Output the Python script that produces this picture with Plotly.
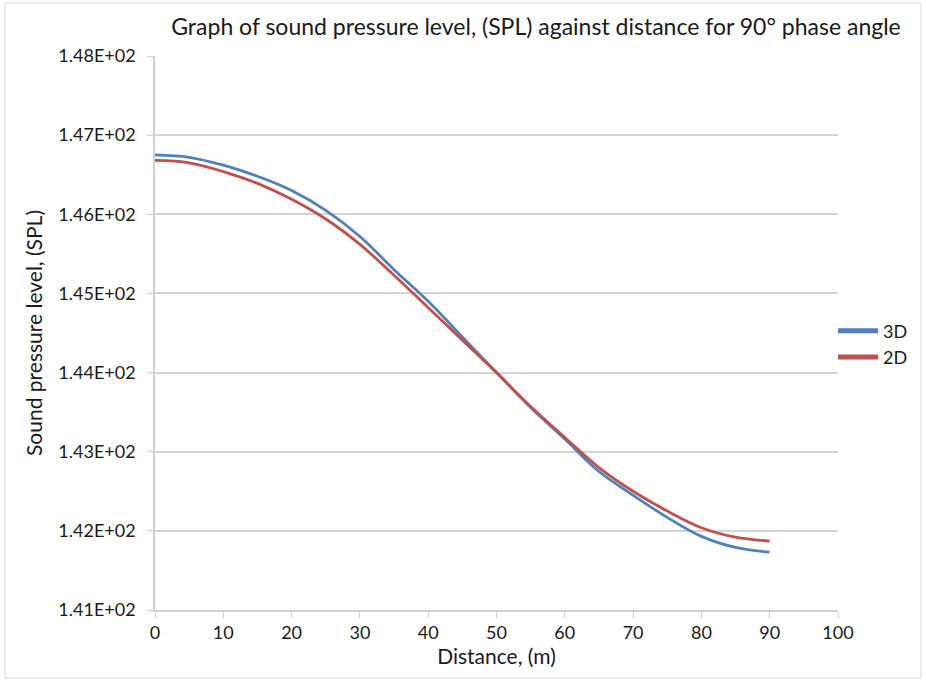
import plotly.graph_objects as go

distance = [0, 5, 10, 15, 20, 25, 30, 35, 40, 45, 50, 55, 60, 65, 70, 75, 80, 85, 90]
spl_3d = [146.75, 146.72, 146.62, 146.48, 146.30, 146.05, 145.72, 145.30, 144.90, 144.45,
          144.00, 143.56, 143.16, 142.75, 142.45, 142.17, 141.93, 141.79, 141.73]
spl_2d = [146.68, 146.65, 146.54, 146.39, 146.19, 145.94, 145.62, 145.23, 144.82, 144.41,
          144.00, 143.57, 143.18, 142.80, 142.50, 142.25, 142.04, 141.92, 141.87]
y_ticks = [141, 142, 143, 144, 145, 146, 147, 148]
y_tick_labels = ["1.41E+02", "1.42E+02", "1.43E+02", "1.44E+02",
                 "1.45E+02", "1.46E+02", "1.47E+02", "1.48E+02"]
x_ticks = [0, 10, 20, 30, 40, 50, 60, 70, 80, 90, 100]

FONT = "Lato"
BLUE = "#4F81BD"
RED = "#C0504D"
fig = go.Figure()
fig.add_trace(go.Scatter(x=distance, y=spl_3d, mode="lines", name="3D", showlegend=False,
                         line=dict(color=BLUE, width=2.8, shape="spline")))
fig.add_trace(go.Scatter(x=distance, y=spl_2d, mode="lines", name="2D", showlegend=False,
                         line=dict(color=RED, width=2.8, shape="spline")))
# legend-only entries with thicker swatches
fig.add_trace(go.Scatter(x=[None], y=[None], mode="lines", name="3D",
                         line=dict(color=BLUE, width=5)))
fig.add_trace(go.Scatter(x=[None], y=[None], mode="lines", name="2D",
                         line=dict(color=RED, width=5)))

W, H = 926, 682
L, R, T, B = 155, 88, 56, 72
pw, ph = W - L - R, H - T - B

def px(x):
    return (x - L) / pw

def py(y):
    return (H - B - y) / ph

fig.update_layout(
    width=W, height=H,
    margin=dict(l=L, r=R, t=T, b=B),
    paper_bgcolor="white", plot_bgcolor="white",
    font=dict(family=FONT, color="#1a1a1a", size=18),
    title=dict(text="Graph of sound pressure level, (SPL) against distance for 90° phase angle",
               x=536 / W, xanchor="center", y=1 - 27 / H, yanchor="middle",
               font=dict(family=FONT, size=23, color="#1a1a1a")),
    xaxis=dict(range=[0, 100], tickvals=x_ticks, showgrid=False,
               showline=True, linecolor="#d0d0d0", linewidth=1.5,
               ticks="outside", ticklen=6, tickcolor="#d0d0d0",
               tickfont=dict(size=18), zeroline=False,
               title=dict(text="Distance, (m)", font=dict(size=21), standoff=6)),
    yaxis=dict(range=[141, 148], tickvals=y_ticks, ticktext=y_tick_labels,
               showgrid=True, gridcolor="#d4d4d4", gridwidth=1.5,
               showline=True, linecolor="#d0d0d0", linewidth=1.5,
               ticks="outside", ticklen=6, tickcolor="#d0d0d0",
               ticklabelstandoff=8,
               tickfont=dict(size=18), zeroline=False,
               title=dict(text="Sound pressure level, (SPL)", font=dict(size=21), standoff=10)),
    legend=dict(x=px(833), y=py(344), xanchor="left", yanchor="middle",
                font=dict(size=18), bgcolor="rgba(0,0,0,0)",
                tracegroupgap=0, itemwidth=40),
    showlegend=True,
)
fig.add_shape(type="rect", xref="paper", yref="paper",
              x0=px(5), x1=px(921), y0=py(678), y1=py(3),
              line=dict(color="#d9d9d9", width=1), layer="below")

fig.write_html("out.html")
